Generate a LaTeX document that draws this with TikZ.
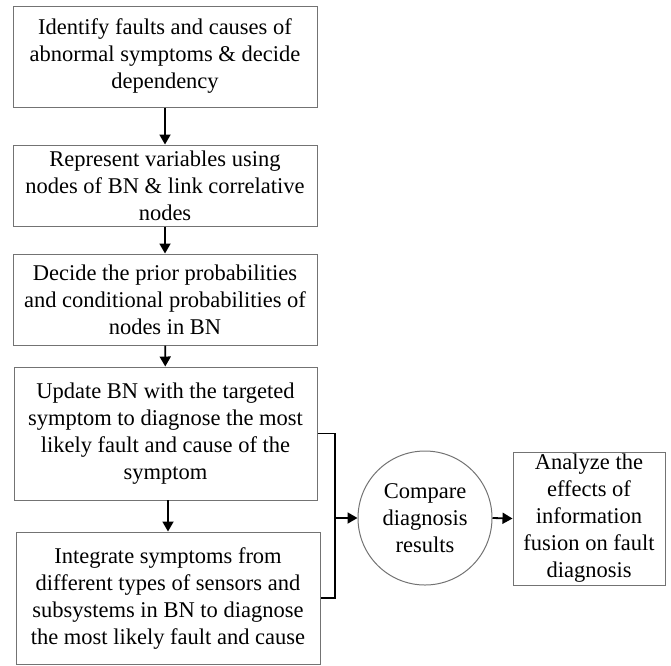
\documentclass[tikz,border=0pt]{standalone}
\usepackage{fontspec}
\setmainfont{Liberation Serif}
\usetikzlibrary{arrows.meta}
\begin{document}
\begin{tikzpicture}[x=1pt,y=-1pt,
  stepbox/.style={draw=black!55, line width=1pt, align=center, inner sep=0pt,
    font=\fontsize{22.5}{27}\selectfont},
  arr/.style={line width=1.8pt, -{Triangle[length=10pt,width=11pt]}},
  brk/.style={line width=1.8pt}]
\useasboundingbox (0,0) rectangle (671,665);
\node[stepbox, minimum width=304pt, minimum height=101pt] (b1) at (165,56.5)
  {Identify faults and causes of\\abnormal symptoms \& decide\\dependency};
\node[stepbox, minimum width=304pt, minimum height=81pt] (b2) at (165,185.5)
  {Represent variables using\\nodes of BN \& link correlative\\nodes};
\node[stepbox, minimum width=304pt, minimum height=91pt] (b3) at (165,299.5)
  {Decide the prior probabilities\\and conditional probabilities of\\nodes in BN};
\node[stepbox, minimum width=303pt, minimum height=133pt] (b4) at (165.5,433.5)
  {Update BN with the targeted\\symptom to diagnose the most\\likely fault and cause of the\\symptom};
\node[stepbox, minimum width=304pt, minimum height=132pt] (b5) at (168,598)
  {Integrate symptoms from\\different types of sensors and\\subsystems in BN to diagnose\\the most likely fault and cause};
\node[stepbox, circle, minimum size=134pt] (c) at (425,518)
  {Compare\\diagnosis\\results};
\node[stepbox, minimum width=152pt, minimum height=133pt] (b6) at (589,518.5)
  {Analyze the\\effects of\\information\\fusion on fault\\diagnosis};
\coordinate (t) at (335,433.5);
\coordinate (m) at (335,518);
\coordinate (u) at (335,598);
\draw[arr] (b1) -- (b2);
\draw[arr] (b2) -- (b3);
\draw[arr] (b3) -- (b4);
\draw[arr] (168,500) -- (b5.north);
\draw[brk] (b4.east) -- (t) -- (u) -- (b5.east);
\draw[arr] (m) -- (c.west);
\draw[arr] (c.east) -- (b6.west);
\end{tikzpicture}
\end{document}
